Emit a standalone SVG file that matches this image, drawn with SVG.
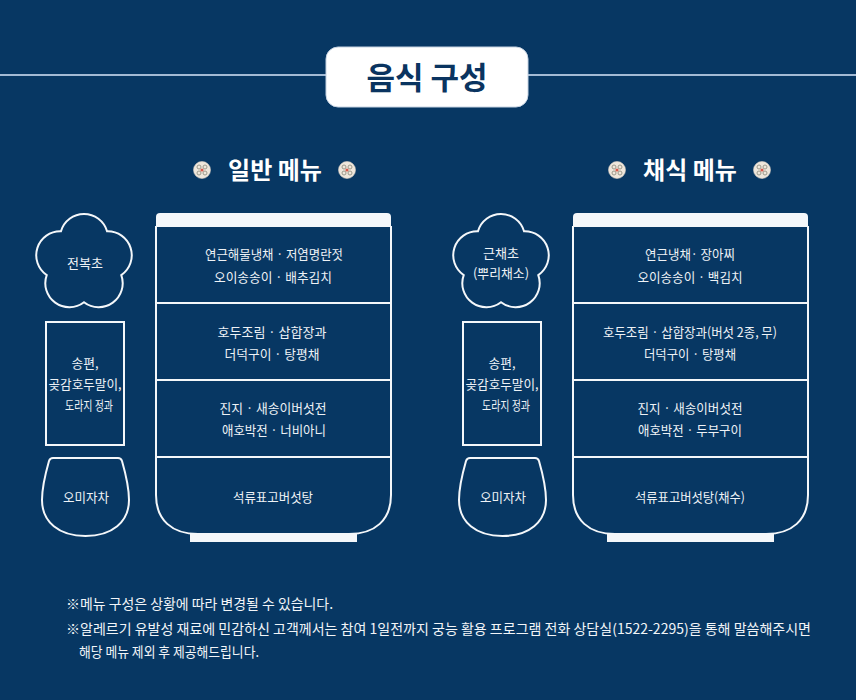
<svg xmlns="http://www.w3.org/2000/svg" width="856" height="700" viewBox="0 0 856 700">
<defs>
<style>
.bg{fill:#073763}
.ol{fill:none;stroke:#f4f7fa;stroke-width:2}
.wf{fill:#f4f7fa}
.t{font-family:"Noto Sans CJK KR","Noto Sans",sans-serif;fill:#eef2f6;text-anchor:middle;font-size:13px}
.h{font-family:"Noto Sans CJK KR","Noto Sans",sans-serif;fill:#ffffff;text-anchor:middle;font-size:24px;font-weight:bold}
.f{font-family:"Noto Sans CJK KR","Noto Sans",sans-serif;fill:#f2f5f8;font-size:14px}
</style>
<g id="ico">
<circle r="8.5" fill="#efe7dc" stroke="#d9cfc2" stroke-width="0.6"/>
<circle cx="-3" cy="-3" r="2" fill="none" stroke="#9c9a8c" stroke-width="1"/>
<circle cx="3" cy="-3" r="2" fill="none" stroke="#9c9a8c" stroke-width="1"/>
<circle cx="-3" cy="3" r="2" fill="none" stroke="#9c9a8c" stroke-width="1"/>
<circle cx="3" cy="3" r="2" fill="none" stroke="#9c9a8c" stroke-width="1"/>
<circle r="1.6" fill="#d8594a"/>
</g>
</defs>
<rect class="bg" x="0" y="0" width="856" height="700"/>

<g id="title">
<line x1="0" y1="75" x2="856" y2="75" stroke="#a3bad4" stroke-width="2"/>
<rect x="326" y="47" width="202" height="60" rx="12" fill="#ffffff" stroke="#c6d3e2" stroke-width="1"/>
<text x="427" y="89" font-family="'Noto Sans CJK KR','Noto Sans',sans-serif" font-size="31" font-weight="bold" fill="#0a3460" text-anchor="middle">음식 구성</text>
</g>

<g id="header-general">
<use href="#ico" x="202" y="170"/>
<text class="h" x="275" y="179">일반 메뉴</text>
<use href="#ico" x="347" y="170"/>
</g>
<g id="header-veg">
<use href="#ico" x="617" y="170"/>
<text class="h" x="690" y="179">채식 메뉴</text>
<use href="#ico" x="762" y="170"/>
</g>

<!-- left side items -->
<g id="flower-left">
<path class="ol" d="M60.96 231.29 A24 24 0 0 1 107.04 231.29 A24 24 0 0 1 121.28 275.11 A24 24 0 0 1 84 302.2 A24 24 0 0 1 46.72 275.11 A24 24 0 0 1 60.96 231.29 Z"/>
<text class="t" x="85" y="268" textLength="36" lengthAdjust="spacingAndGlyphs">전복초</text>
</g>
<g id="rect-left">
<rect class="ol" x="46" y="322" width="78" height="123"/>
<text class="t" x="85" y="368" textLength="27" lengthAdjust="spacingAndGlyphs">송편,</text>
<text class="t" x="85" y="389" textLength="73" lengthAdjust="spacingAndGlyphs">곶감호두말이,</text>
<text class="t" x="89" y="410" textLength="48" lengthAdjust="spacingAndGlyphs">도라지 정과</text>
</g>
<g id="cup-left">
<path class="ol" d="M53 458 L118 458 Q121 458 122 461 C126 475 129 488 129 500 C129 522 112 536 85.5 536 C59 536 42 522 42 500 C42 488 45 475 49 461 Q50 458 53 458 Z"/>
<text class="t" x="86" y="502" textLength="46" lengthAdjust="spacingAndGlyphs">오미자차</text>
</g>

<g id="bowl-left">
<path class="wf" d="M156 227 L156 217 Q156 213 160 213 L387 213 Q391 213 391 217 L391 227 Z"/>
<path class="ol" d="M156 226 L156 495 C156 520 172 534 198 534 L349 534 C375 534 391 520 391 495 L391 226"/>
<rect class="wf" x="190" y="534" width="167" height="8"/>
<line class="ol" x1="156" y1="303" x2="391" y2="303"/>
<line class="ol" x1="156" y1="380" x2="391" y2="380"/>
<line class="ol" x1="156" y1="457" x2="391" y2="457"/>
<text class="t" x="274" y="259" textLength="138" lengthAdjust="spacingAndGlyphs">연근해물냉채 · 저염명란젓</text>
<text class="t" x="273" y="282" textLength="118" lengthAdjust="spacingAndGlyphs">오이송송이 · 배추김치</text>
<text class="t" x="272" y="337" textLength="109" lengthAdjust="spacingAndGlyphs">호두조림 · 삽합장과</text>
<text class="t" x="272" y="359" textLength="95" lengthAdjust="spacingAndGlyphs">더덕구이 · 탕평채</text>
<text class="t" x="273" y="413" textLength="107" lengthAdjust="spacingAndGlyphs">진지 · 새송이버섯전</text>
<text class="t" x="274" y="435" textLength="104" lengthAdjust="spacingAndGlyphs">애호박전 · 너비아니</text>
<text class="t" x="273" y="502" textLength="80" lengthAdjust="spacingAndGlyphs">석류표고버섯탕</text>
</g>

<!-- right side items -->
<g id="flower-right">
<path class="ol" d="M477.96 231.29 A24 24 0 0 1 524.04 231.29 A24 24 0 0 1 538.28 275.11 A24 24 0 0 1 501 302.2 A24 24 0 0 1 463.72 275.11 A24 24 0 0 1 477.96 231.29 Z"/>
<text class="t" x="501" y="258" textLength="36" lengthAdjust="spacingAndGlyphs">근채초</text>
<text class="t" x="501" y="278" textLength="56" lengthAdjust="spacingAndGlyphs">(뿌리채소)</text>
</g>
<g id="rect-right">
<rect class="ol" x="463" y="322" width="78" height="123"/>
<text class="t" x="502" y="368" textLength="27" lengthAdjust="spacingAndGlyphs">송편,</text>
<text class="t" x="502" y="389" textLength="73" lengthAdjust="spacingAndGlyphs">곶감호두말이,</text>
<text class="t" x="506" y="410" textLength="48" lengthAdjust="spacingAndGlyphs">도라지 정과</text>
</g>
<g id="cup-right">
<path class="ol" d="M470 458 L535 458 Q538 458 539 461 C543 475 546 488 546 500 C546 522 529 536 502.5 536 C476 536 459 522 459 500 C459 488 462 475 466 461 Q467 458 470 458 Z"/>
<text class="t" x="503" y="502" textLength="46" lengthAdjust="spacingAndGlyphs">오미자차</text>
</g>

<g id="bowl-right">
<path class="wf" d="M573 227 L573 217 Q573 213 577 213 L804 213 Q808 213 808 217 L808 227 Z"/>
<path class="ol" d="M573 226 L573 495 C573 520 589 534 615 534 L766 534 C792 534 808 520 808 495 L808 226"/>
<rect class="wf" x="607" y="534" width="167" height="8"/>
<line class="ol" x1="573" y1="303" x2="808" y2="303"/>
<line class="ol" x1="573" y1="380" x2="808" y2="380"/>
<line class="ol" x1="573" y1="457" x2="808" y2="457"/>
<text class="t" x="690" y="259" textLength="90" lengthAdjust="spacingAndGlyphs">연근냉채· 장아찌</text>
<text class="t" x="690" y="282" textLength="105" lengthAdjust="spacingAndGlyphs">오이송송이 · 백김치</text>
<text class="t" x="690" y="337" textLength="174" lengthAdjust="spacingAndGlyphs">호두조림 · 삽합장과(버섯 2종, 무)</text>
<text class="t" x="690" y="359" textLength="92" lengthAdjust="spacingAndGlyphs">더덕구이 · 탕평채</text>
<text class="t" x="690" y="413" textLength="105" lengthAdjust="spacingAndGlyphs">진지 · 새송이버섯전</text>
<text class="t" x="690" y="435" textLength="104" lengthAdjust="spacingAndGlyphs">애호박전 · 두부구이</text>
<text class="t" x="690" y="502" textLength="110" lengthAdjust="spacingAndGlyphs">석류표고버섯탕(채수)</text>
</g>

<g id="notes">
<text class="f" x="66" y="609" textLength="267" lengthAdjust="spacingAndGlyphs">※메뉴 구성은 상황에 따라 변경될 수 있습니다.</text>
<text class="f" x="66" y="634" textLength="745" lengthAdjust="spacingAndGlyphs">※알레르기 유발성 재료에 민감하신 고객께서는 참여 1일전까지 궁능 활용 프로그램 전화 상담실(1522-2295)을 통해 말씀해주시면</text>
<text class="f" x="79" y="657" textLength="180" lengthAdjust="spacingAndGlyphs">해당 메뉴 제외 후 제공해드립니다.</text>
</g>
</svg>
